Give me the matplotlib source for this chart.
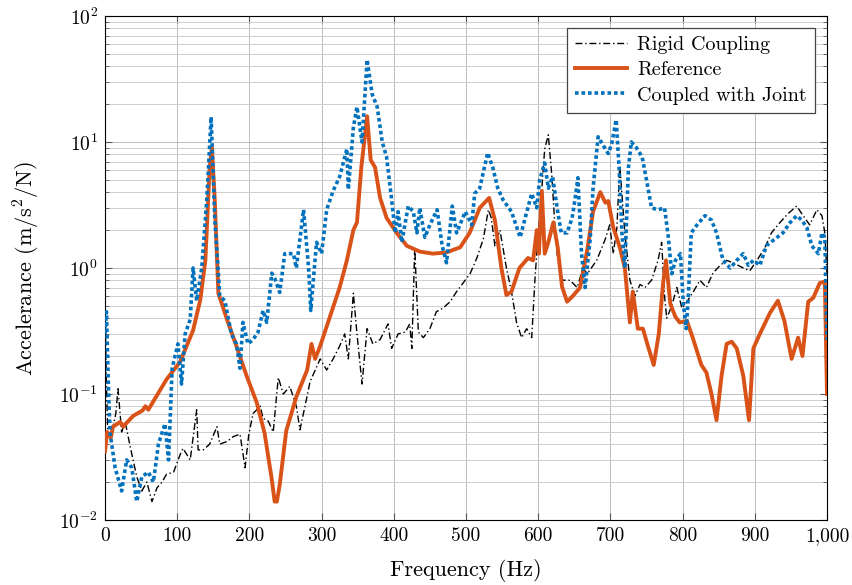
import matplotlib
matplotlib.use('Agg')
import matplotlib.pyplot as plt
from matplotlib.ticker import FuncFormatter, LogLocator, MultipleLocator, NullFormatter

rigid_freq = [0, 2, 4, 11, 15, 18, 23, 28, 35, 44, 51, 58, 65, 72, 79, 85, 95, 104, 108, 118,
              127, 129, 136, 145, 155, 159, 169, 178, 187, 194, 199, 205, 215, 219, 226, 233,
              240, 247, 256, 265, 270, 277, 284, 298, 307, 316, 325, 332, 337, 344, 349, 356,
              363, 371, 381, 392, 397, 406, 416, 422, 425, 429, 434, 441, 450, 459, 468, 478,
              487, 496, 506, 515, 524, 531, 535, 540, 547, 556, 563, 570, 577, 584, 591, 596,
              602, 609, 614, 619, 623, 627, 634, 644, 654, 662, 668, 681, 693, 699, 704, 709,
              713, 720, 727, 734, 741, 748, 757, 766, 771, 775, 778, 785, 792, 799, 806, 815,
              824, 833, 842, 852, 861, 870, 884, 893, 903, 914, 923, 935, 946, 958, 967, 976,
              986, 993, 997, 1000]
rigid_acc = [0.49, 0.12, 0.045, 0.055, 0.07, 0.11, 0.05, 0.06, 0.038, 0.022, 0.017, 0.02, 0.014,
             0.018, 0.02, 0.023, 0.024, 0.033, 0.037, 0.03, 0.075, 0.036, 0.036, 0.04, 0.055,
             0.04, 0.042, 0.046, 0.048, 0.026, 0.047, 0.07, 0.08, 0.064, 0.061, 0.05, 0.135,
             0.1, 0.115, 0.08, 0.052, 0.08, 0.125, 0.19, 0.155, 0.19, 0.24, 0.3, 0.19, 0.63,
             0.3, 0.12, 0.33, 0.25, 0.27, 0.36, 0.23, 0.3, 0.31, 0.36, 0.23, 1.46, 0.31, 0.28,
             0.33, 0.45, 0.48, 0.54, 0.65, 0.76, 0.91, 1.2, 1.7, 2.9, 2.5, 1.5, 2.0, 1.0, 0.65,
             0.37, 0.28, 0.33, 0.28, 0.91, 2.5, 8.8, 11.4, 5.3, 2.2, 1.15, 0.8, 0.8, 0.7, 1.0,
             0.9, 1.15, 1.7, 2.2, 1.3, 2.1, 6.5, 1.9, 0.8, 0.6, 0.74, 0.7, 0.8, 1.15, 1.6, 0.6,
             0.4, 0.5, 0.7, 0.48, 0.54, 0.65, 0.8, 0.7, 0.91, 1.05, 1.15, 1.1, 1.0, 0.95, 1.15,
             1.45, 1.9, 2.3, 2.7, 3.1, 2.6, 2.2, 2.9, 2.6, 1.9, 0.9]

ref_freq = [0, 3, 8, 11, 21, 25, 39, 52, 56, 60, 85, 104, 122, 132, 139, 145, 148, 152, 157,
            169, 182, 196, 210, 221, 231, 235, 238, 242, 251, 265, 280, 286, 291, 298, 316,
            325, 335, 344, 349, 355, 363, 368, 374, 381, 390, 404, 418, 436, 454, 473, 492,
            505, 519, 532, 540, 549, 556, 563, 574, 586, 593, 598, 601, 605, 609, 614, 621,
            627, 633, 640, 648, 658, 668, 676, 686, 693, 697, 704, 713, 720, 727, 731, 738,
            745, 752, 760, 767, 773, 777, 783, 790, 796, 806, 814, 826, 833, 840, 847, 854,
            861, 868, 875, 884, 892, 898, 907, 921, 932, 941, 951, 960, 966, 974, 981, 990,
            997, 1000]
ref_acc = [0.035, 0.05, 0.045, 0.055, 0.06, 0.055, 0.067, 0.074, 0.08, 0.075, 0.13, 0.18, 0.32,
           0.56, 1.15, 6.3, 9.0, 3.5, 0.63, 0.39, 0.24, 0.14, 0.086, 0.049, 0.021, 0.014,
           0.014, 0.019, 0.051, 0.095, 0.155, 0.25, 0.19, 0.24, 0.49, 0.7, 1.15, 2.0, 2.3, 6.3,
           16, 7.2, 6.3, 3.6, 2.5, 1.9, 1.5, 1.35, 1.3, 1.33, 1.46, 1.9, 3.0, 3.6, 2.4, 1.0,
           0.61, 0.65, 1.0, 1.2, 1.15, 2.0, 1.3, 4.1, 1.3, 1.6, 2.3, 1.46, 0.71, 0.54, 0.6,
           0.7, 1.4, 2.8, 4.0, 3.3, 3.4, 2.1, 1.46, 1.0, 0.37, 0.65, 0.33, 0.33, 0.24, 0.17,
           0.3, 0.76, 1.15, 0.52, 0.41, 0.37, 0.38, 0.28, 0.17, 0.148, 0.10, 0.062, 0.14,
           0.25, 0.26, 0.23, 0.14, 0.062, 0.23, 0.30, 0.44, 0.55, 0.38, 0.19, 0.28, 0.2,
           0.54, 0.58, 0.76, 0.78, 0.1]

joint_freq = [0, 2, 5, 7, 14, 23, 30, 37, 44, 51, 60, 67, 74, 83, 88, 93, 101, 106, 111, 118,
              122, 127, 134, 141, 147, 152, 159, 166, 175, 182, 187, 191, 198, 205, 212, 219,
              224, 231, 235, 242, 249, 261, 265, 275, 282, 285, 293, 300, 307, 316, 325, 335,
              337, 344, 349, 356, 363, 370, 377, 384, 390, 397, 402, 406, 411, 420, 427, 432,
              436, 443, 450, 460, 467, 473, 481, 487, 499, 508, 512, 519, 530, 537, 544, 551,
              563, 575, 582, 591, 598, 602, 609, 614, 620, 627, 632, 640, 647, 651, 655, 660,
              665, 672, 676, 683, 690, 697, 702, 708, 712, 716, 720, 725, 729, 736, 744, 750,
              757, 766, 775, 780, 785, 790, 797, 801, 805, 808, 812, 820, 831, 840, 847, 856,
              866, 875, 884, 891, 898, 907, 916, 928, 939, 949, 958, 965, 972, 979, 988, 993,
              997, 1000]
joint_acc = [0.3, 0.45, 0.1, 0.049, 0.026, 0.017, 0.03, 0.026, 0.014, 0.022, 0.024, 0.02, 0.04,
             0.058, 0.03, 0.16, 0.25, 0.12, 0.3, 0.39, 1.0, 0.55, 1.0, 3.5, 15.8, 2.5, 0.6,
             0.55, 0.3, 0.25, 0.16, 0.37, 0.25, 0.27, 0.31, 0.46, 0.37, 0.91, 0.83, 0.64, 1.3,
             1.3, 1.0, 2.9, 1.0, 0.46, 1.6, 1.3, 2.9, 4.1, 5.3, 8.8, 4.2, 13, 19, 10, 45, 24,
             19, 10, 7.6, 3.5, 1.9, 2.8, 1.6, 3.1, 2.8, 1.9, 3.0, 1.75, 2.2, 2.9, 1.5, 1.1, 3.1,
             1.9, 2.8, 2.2, 3.9, 4.3, 8.2, 6.3, 4.3, 3.5, 2.8, 1.75, 2.5, 3.9, 3.0, 5.0, 6.8,
             4.3, 5.3, 2.8, 1.9, 1.9, 2.5, 3.5, 5.2, 1.3, 0.7, 1.7, 4.3, 11, 9.4, 8.1, 9.8, 15,
             6.3, 1.9, 1.0, 6.3, 10, 9, 7.6, 5.0, 3.0, 2.9, 3.0, 1.8, 0.9, 1.15, 1.3, 0.52,
             0.33, 0.6, 1.9, 2.2, 2.6, 2.4, 1.9, 1.15, 1.0, 1.15, 1.3, 1.05, 1.15, 1.05, 1.5,
             1.7, 1.9, 2.3, 2.6, 2.4, 2.1, 1.5, 1.3, 1.9, 1.75, 0.27]

plt.rcParams['font.family'] = 'serif'
plt.rcParams['font.serif'] = ['cmr10', 'DejaVu Serif']
plt.rcParams['mathtext.fontset'] = 'cm'
plt.rcParams['axes.formatter.use_mathtext'] = True
plt.rcParams['font.size'] = 14

fig = plt.figure(figsize=(8.53, 5.85), dpi=100)
ax = fig.add_axes([105/853, 1 - 520/585, (827 - 105)/853, (520 - 16)/585])

ax.plot(rigid_freq, rigid_acc, color='black', lw=1.0, linestyle=(0, (5, 2, 1, 2)),
        label='Rigid Coupling', zorder=3)
ax.plot(ref_freq, ref_acc, color='#D95319', lw=2.8, label='Reference', zorder=4,
        solid_joinstyle='round')
ax.plot(joint_freq, joint_acc, color='#0072BD', lw=2.6, linestyle=(0, (1, 0.8)),
        label='Coupled with Joint', zorder=5, dash_capstyle='butt')

ax.set_yscale('log')
ax.set_xlim(0, 1000)
ax.set_ylim(1e-2, 1e2)
ax.xaxis.set_major_locator(MultipleLocator(100))
ax.xaxis.set_major_formatter(FuncFormatter(lambda v, p: f'{int(v):,}'))
ax.yaxis.set_major_locator(LogLocator(base=10, numticks=10))
ax.yaxis.set_minor_locator(LogLocator(base=10, subs=range(2, 10), numticks=20))
ax.yaxis.set_minor_formatter(NullFormatter())

ax.grid(True, which='major', color='#bdbdbd', lw=0.7)
ax.grid(True, which='minor', axis='y', color='#cfcfcf', lw=0.7)
ax.set_axisbelow(True)
ax.tick_params(which='both', direction='in', top=True, right=True, labelsize=14,
               color='#555555')
ax.tick_params(which='major', length=5, pad=5)
ax.tick_params(which='minor', length=3)
for s in ax.spines.values():
    s.set_linewidth(0.8)

ax.set_xlabel('Frequency (Hz)', fontsize=16, labelpad=10)
ax.set_ylabel('Accelerance (m/s$^2$/N)', fontsize=16, labelpad=12)

leg = ax.legend(loc='upper right', fontsize=14.5, fancybox=False, framealpha=1,
                edgecolor='#444444', handlelength=2.6, borderaxespad=0.6,
                labelspacing=0.35, borderpad=0.4, handletextpad=0.5)
leg.get_frame().set_linewidth(0.9)

fig.savefig('out.png', dpi=100)
